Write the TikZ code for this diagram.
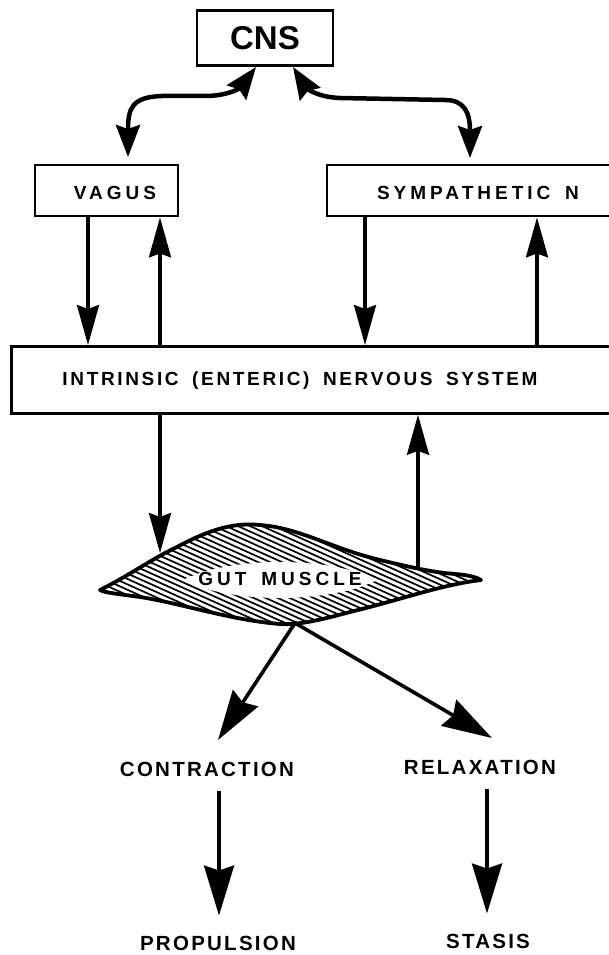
\documentclass[tikz,border=0pt]{standalone}
\usepackage{fontspec}
\setmainfont{Liberation Sans}
\newfontfamily\topfont[LetterSpace=21,WordSpace=1.6]{Liberation Sans}
\newfontfamily\ensfont[LetterSpace=14,WordSpace=1.7]{Liberation Sans}
\newfontfamily\botfont[LetterSpace=11]{Liberation Sans}
\usetikzlibrary{arrows.meta,calc}
\begin{document}
\begin{tikzpicture}[x=1pt,y=-1pt,
 box/.style={draw, line width=2.8pt, inner sep=0pt},
 lbl/.style={font=\topfont\bfseries\fontsize{19}{21}\selectfont, inner sep=0pt},
 enslbl/.style={font=\ensfont\bfseries\fontsize{19}{21}\selectfont, inner sep=0pt},
 botlbl/.style={font=\botfont\bfseries\fontsize{20.5}{23}\selectfont, inner sep=0pt},
 arr/.style={line width=3.2pt, -{Stealth[length=40pt,width=22pt,inset=4pt]}},
 big/.style={line width=3.6pt, -{Stealth[length=50pt,width=30pt,inset=5pt]}},
 dbl/.style={line width=4.5pt, {Stealth[length=32pt,width=24pt,inset=4pt]}-{Stealth[length=32pt,width=24pt,inset=4pt]}}]
\useasboundingbox (0,0) rectangle (609,955);
\clip (0,0) rectangle (609,955);

% boxes
\node[box, minimum width=136pt, minimum height=55pt, font=\bfseries\fontsize{33}{36}\selectfont] (cns) at (265,38) {CNS};
\node[box, minimum width=143pt, minimum height=51pt] (vagus) at (106.5,190.5) {};
\node[lbl] (vagustext) at (115,193) {VAGUS};
\node[box, minimum width=286pt, minimum height=51pt] (symp) at (470,190.5) {};
\node[lbl] (symptext) at (478,193) {SYMPATHETIC N};
\node[box, minimum width=610pt, minimum height=67pt, anchor=north west] (ens) at (10,345) {};
\node[enslbl] (enstext) at (300,381) {INTRINSIC (ENTERIC) NERVOUS SYSTEM};

% columns
\coordinate (cA) at (88,0);
\coordinate (cB) at (160,0);
\coordinate (cC) at (365,0);
\coordinate (cD) at (537,0);
\coordinate (cF) at (418,0);

% curved CNS arrows
\coordinate (lt) at (128,157);
\coordinate (lc) at (256,67);
\coordinate (rc) at (293,67);
\coordinate (rt) at (470,158);
\draw[dbl] (lt) .. controls (128,108) and (132,97) .. (162,96) -- (205,96) .. controls (228,96) and (240,88) .. (lc);
\draw[dbl] (rc) .. controls (305,86) and (314,97) .. (340,98) -- (445,100) .. controls (464,100) and (470,112) .. (rt);

% vagus / sympathetic arrows
\draw[arr] (vagus.south -| cA) -- (ens.north -| cA);
\draw[arr] (ens.north -| cB) -- (vagus.south -| cB);
\draw[arr] (symp.south -| cC) -- (ens.north -| cC);
\draw[arr] (ens.north -| cD) -- (symp.south -| cD);

% gut muscle
\begin{scope}
\clip (100,590) .. controls (130,575) and (150,560) .. (175,548)
 .. controls (205,532) and (230,522) .. (260,525)
 .. controls (300,528) and (330,548) .. (380,560)
 .. controls (410,567) and (430,572) .. (455,574)
 .. controls (470,575) and (478,578) .. (481,580)
 .. controls (440,585) and (400,600) .. (350,612)
 .. controls (320,620) and (300,625) .. (280,624)
 .. controls (230,620) and (180,603) .. (140,597)
 .. controls (120,594) and (105,593) .. (100,590) -- cycle;
\foreach \i in {-300,-288,...,600} \draw[line width=1.7pt] (\i,500) -- ++(300,135);
\end{scope}
\fill[white] (183,580) .. controls (230,556) and (330,556) .. (377,580) .. controls (330,604) and (230,604) .. cycle;
\draw[line width=3.8pt, line join=round] (100,590) .. controls (130,575) and (150,560) .. (175,548)
 .. controls (205,532) and (230,522) .. (260,525)
 .. controls (300,528) and (330,548) .. (380,560)
 .. controls (410,567) and (430,572) .. (455,574)
 .. controls (470,575) and (478,578) .. (481,580)
 .. controls (440,585) and (400,600) .. (350,612)
 .. controls (320,620) and (300,625) .. (280,624)
 .. controls (230,620) and (180,603) .. (140,597)
 .. controls (120,594) and (105,593) .. (100,590) -- cycle;
\node[lbl] (gut) at (280,579) {GUT MUSCLE};
\coordinate (gutin) at (160,553);
\coordinate (gutout) at (418,568);
\coordinate (gutbot) at (295,623);

\draw[arr] (ens.south -| cB) -- (gutin);
\draw[arr] (gutout) -- (ens.south -| cF);

% outcomes
\node[botlbl] (contr) at (207,769) {CONTRACTION};
\node[botlbl] (relax) at (480,767) {RELAXATION};
\node[botlbl] (prop) at (218,943) {PROPULSION};
\node[botlbl] (stasis) at (488,941) {STASIS};
\coordinate (ctip) at (218,740);
\coordinate (rtip) at (492,738);
\coordinate (dL) at (219,0);
\coordinate (dR) at (487,0);
\draw[big] (gutbot) -- (ctip);
\draw[big] (gutbot) -- (rtip);
\draw[big, shorten <=15pt, shorten >=20pt] (contr.south -| dL) -- (prop.north -| dL);
\draw[big, shorten <=15pt, shorten >=20pt] (relax.south -| dR) -- (stasis.north -| dR);
\end{tikzpicture}
\end{document}
